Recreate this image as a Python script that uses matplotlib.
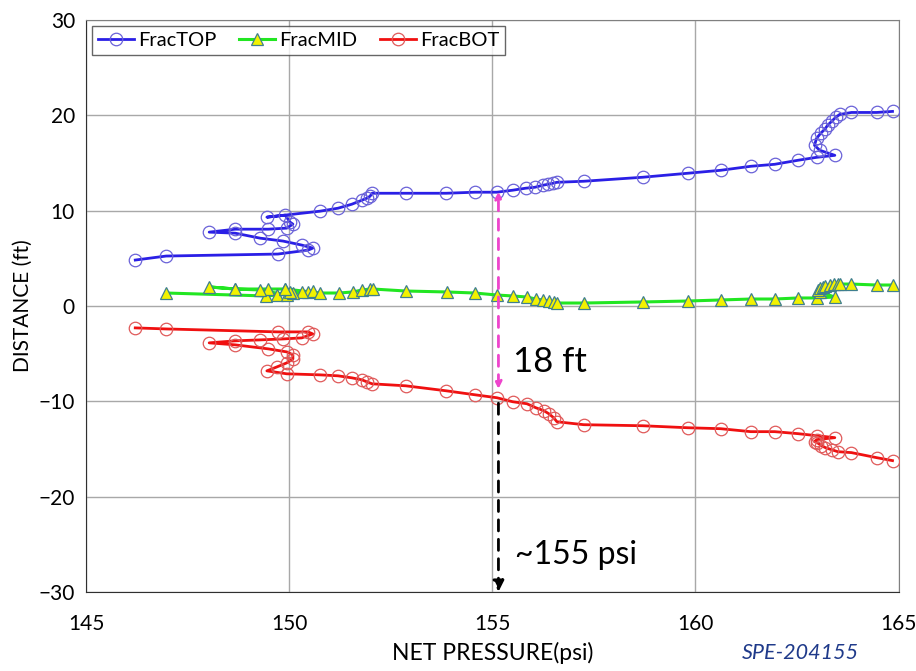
import matplotlib
matplotlib.use("Agg")
import matplotlib.pyplot as plt

# Net pressure (psi) vs. distance (ft) for the three fractures

top_x = [146.21, 146.97, 149.72, 150.46, 150.58, 150.31, 149.85, 149.28, 148.67, 148.03,
         148.67, 149.48, 149.94, 150.09, 150.02, 149.90, 149.45, 150.76, 151.20, 151.54,
         151.79, 151.91, 151.99, 152.04, 152.87, 153.86, 154.57, 155.11, 155.50, 155.82,
         156.05, 156.24, 156.37, 156.49, 156.59, 157.25, 158.70, 159.81, 160.62, 161.36,
         161.95, 162.52, 162.98, 163.43, 163.06, 162.93, 162.98, 163.08, 163.18, 163.25,
         163.35, 163.45, 163.55, 163.84, 164.46, 164.85]
top_y = [4.82, 5.24, 5.45, 5.86, 6.07, 6.39, 6.81, 7.12, 7.64, 7.75,
         8.06, 8.06, 8.17, 8.59, 8.80, 9.53, 9.32, 9.95, 10.26, 10.68,
         11.10, 11.31, 11.52, 11.83, 11.83, 11.83, 11.94, 11.94, 12.15, 12.36,
         12.46, 12.67, 12.77, 12.88, 12.98, 13.09, 13.51, 13.93, 14.24, 14.66,
         14.87, 15.29, 15.60, 15.81, 16.34, 16.86, 17.59, 18.12, 18.53, 18.95,
         19.37, 19.79, 20.10, 20.31, 20.31, 20.42]

mid_x = [146.97, 149.43, 149.70, 150.46, 150.58, 150.31, 149.90, 149.48, 148.67, 148.03,
         148.67, 149.28, 149.94, 150.09, 150.02, 149.90, 150.76, 151.22, 151.57, 151.79,
         151.99, 152.06, 152.87, 153.88, 154.57, 155.11, 155.50, 155.85, 156.07, 156.24,
         156.39, 156.51, 156.59, 157.25, 158.70, 159.81, 160.62, 161.36, 161.95, 162.52,
         162.98, 163.43, 163.06, 163.01, 163.06, 163.13, 163.20, 163.30, 163.40, 163.50,
         163.55, 163.84, 164.46, 164.85]
mid_y = [1.36, 1.05, 1.15, 1.47, 1.57, 1.47, 1.78, 1.78, 1.78, 2.00,
         1.78, 1.68, 1.15, 1.36, 1.47, 1.78, 1.36, 1.36, 1.47, 1.68,
         1.78, 1.78, 1.57, 1.47, 1.36, 1.15, 1.05, 0.94, 0.73, 0.63,
         0.52, 0.42, 0.31, 0.31, 0.42, 0.52, 0.63, 0.73, 0.73, 0.84,
         0.84, 0.94, 1.47, 1.70, 1.90, 2.00, 2.10, 2.20, 2.30, 2.30,
         2.30, 2.30, 2.20, 2.20]

bot_x = [146.21, 146.97, 149.72, 150.46, 150.58, 150.31, 149.85, 149.28, 148.67, 148.03,
         148.67, 149.48, 149.94, 150.09, 150.09, 149.94, 149.70, 149.45, 149.94, 150.76,
         151.20, 151.54, 151.79, 151.91, 152.04, 152.87, 153.86, 154.57, 155.11, 155.50,
         155.85, 156.07, 156.27, 156.39, 156.51, 156.59, 157.25, 158.70, 159.81, 160.62,
         161.36, 161.95, 162.52, 162.98, 163.43, 162.98, 162.93, 163.00, 163.10, 163.20,
         163.35, 163.50, 163.84, 164.46, 164.85]
bot_y = [-2.30, -2.41, -2.72, -2.72, -2.93, -3.35, -3.46, -3.56, -3.66, -3.87,
         -4.08, -4.50, -4.82, -5.13, -5.55, -5.97, -6.39, -6.81, -7.12, -7.23,
         -7.33, -7.54, -7.75, -7.96, -8.17, -8.38, -8.90, -9.32, -9.63, -10.05,
         -10.26, -10.68, -10.99, -11.31, -11.73, -12.15, -12.46, -12.57, -12.78, -12.88,
         -13.19, -13.19, -13.40, -13.61, -13.82, -14.03, -14.24, -14.35, -14.66, -14.87,
         -15.08, -15.29, -15.39, -15.92, -16.23]

# annotation values
p_mark = 155.15
gap_top, gap_bot = 12.0, -8.7
gap_label = "18 ft"
p_label = "~155 psi"

plt.rcParams['font.family'] = ['Lato', 'DejaVu Sans']

fig = plt.figure(figsize=(9.16, 6.71), dpi=100)
ax = fig.add_axes([0.094, 0.118, 0.887, 0.852])

ax.plot(top_x, top_y, color='#2a1fe6', lw=2.0, marker='o', ms=9,
        mfc='none', mec='#6a62d8', mew=0.9, label='FracTOP', zorder=3)
ax.plot(mid_x, mid_y, color='#22e622', lw=2.2, marker='^', ms=9,
        mfc='#f2f200', mec='#3f7f8f', mew=0.9, label='FracMID', zorder=3)
ax.plot(bot_x, bot_y, color='#f01010', lw=2.0, marker='o', ms=9,
        mfc='none', mec='#e05a5a', mew=0.9, label='FracBOT', zorder=3)

# separation between top and bottom fractures
ax.annotate('', xy=(p_mark, gap_top), xytext=(p_mark, gap_bot),
            arrowprops=dict(arrowstyle='<|-|>', color='#ee44cc', lw=2,
                            linestyle=(0, (4, 3)), mutation_scale=10,
                            shrinkA=0, shrinkB=0), zorder=4)
ax.annotate('', xy=(p_mark, -30), xytext=(p_mark, -10.2),
            arrowprops=dict(arrowstyle='-|>', color='black', lw=2,
                            linestyle=(0, (4, 3)), mutation_scale=16,
                            shrinkA=0, shrinkB=0), zorder=4)
ax.text(155.5, -5.9, gap_label, fontsize=25, va='center', ha='left')
ax.text(155.55, -26.1, p_label, fontsize=23, va='center', ha='left')

ax.set_xlim(145, 165)
ax.set_ylim(-30, 30)
ax.set_xticks([145, 150, 155, 160, 165])
ax.set_yticks([-30, -20, -10, 0, 10, 20, 30])
ax.grid(True, color='#a8a8a8', lw=1.0)
ax.set_axisbelow(True)
ax.tick_params(length=0, labelsize=15, pad=8)
ax.tick_params(axis='x', pad=16)
for s in ax.spines.values():
    s.set_color('#808080')
ax.spines['left'].set_color('#303030')
ax.spines['bottom'].set_color('#303030')

ax.set_xlabel('NET PRESSURE(psi)', fontsize=16.5, labelpad=6)
ax.set_ylabel('DISTANCE (ft)', fontsize=15, labelpad=4)

leg = ax.legend(loc='upper left', ncol=3, fontsize=14.5, frameon=True, fancybox=False,
                edgecolor='#404040', handlelength=1.8, handletextpad=0.2,
                columnspacing=1.1, borderpad=0.3, borderaxespad=0.3,
                bbox_to_anchor=(0.0, 1.0))
leg.get_frame().set_linewidth(1.0)

fig.text(0.874, 0.012, 'SPE-204155', fontsize=15.5, style='italic', color='#1f3a8a',
         ha='center', va='bottom')

fig.savefig('out.png', dpi=100)
